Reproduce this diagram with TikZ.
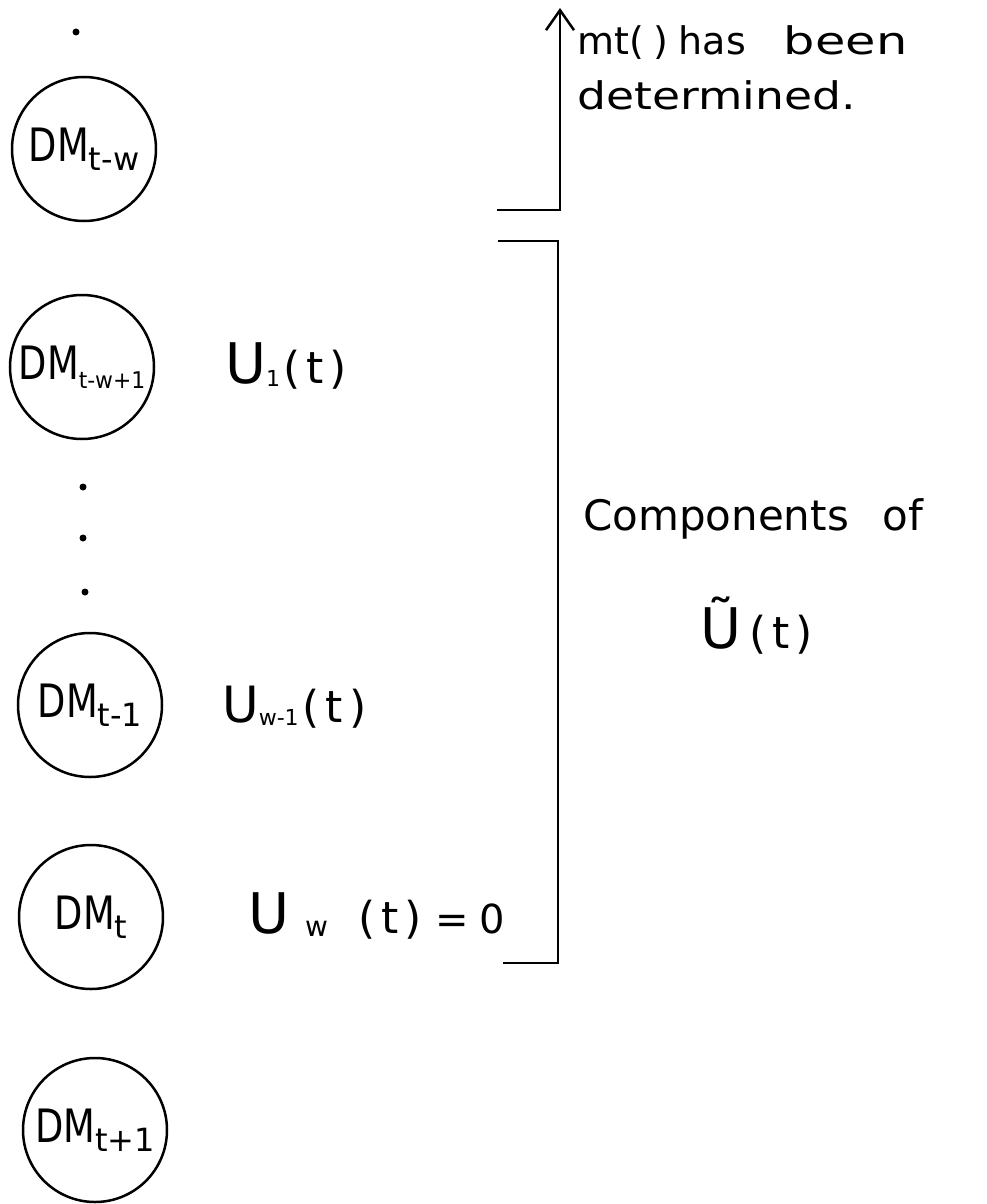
\documentclass[tikz,border=0pt]{standalone}
\usepackage{fontspec}
\setmainfont{DejaVu Sans}
\usepackage{graphicx}
\usetikzlibrary{arrows.meta}
\newcommand{\fs}[1]{\fontsize{#1}{#1}\selectfont}
\newcommand{\dmlab}[3]{\scalebox{0.8}[1]{\fs{46}DM}\raisebox{-9pt}{\scalebox{#3}[1]{\fs{#2}#1}}}
\newcommand{\paren}[1]{{\fs{44}(\hspace{6pt}#1\hspace{6pt})}}
\begin{document}
\begin{tikzpicture}[x=1pt,y=-1pt,
  dmnode/.style={draw,circle,line width=2.5pt,minimum size=144pt,inner sep=0pt},
  lab/.style={anchor=base west,inner sep=0pt},
  dotnode/.style={fill=black,circle,inner sep=0pt,minimum size=7pt},
  brk/.style={line width=2.5pt}]
\useasboundingbox (0,0) rectangle (987,1204);

% decision-maker circles
\node[dmnode] (c1) at (84,149) {\dmlab{t-w}{32}{1}};
\node[dmnode] (c2) at (82,367) {\dmlab{t-w+1}{23}{0.95}};
\node[dmnode] (c3) at (90,705) {\dmlab{t-1}{32}{1}};
\node[dmnode] (c4) at (91,917) {\dmlab{t}{32}{1}};
\node[dmnode] (c5) at (95,1130) {\dmlab{t+1}{32}{1}};

% dots
\node[dotnode] (d0) at (76,32) {};
\node[dotnode] (d1) at (83,487) {};
\node[dotnode] (d2) at (83,538) {};
\node[dotnode] (d3) at (85,592) {};

% U labels
\node[lab] (u1) at (225,383) {{\fs{56}U}\raisebox{-3pt}{\fs{22}1}\hspace{3pt}\paren{t}};
\node[lab] (uw1) at (222,722) {{\fs{50}U}\raisebox{-3pt}{\fs{22}w-1}\hspace{4pt}\paren{t}};
\node[lab] (uw) at (248,933) {{\fs{56}U}\hspace{16pt}\raisebox{-3pt}{\fs{28}w}\hspace{30pt}\paren{t}\hspace{14pt}{\fs{40}=}\hspace{10pt}{\fs{40}0}};

% top bracket with arrow
\coordinate (tl) at (497,210);
\coordinate (tc) at (560,210);
\coordinate (tt) at (560,8);
\draw[brk,-{Straight Barb[length=20pt,width=28pt]}] (tl) -- (tc) -- (tt);
\node[lab] (mt) at (577,55) {\fs{38}mt(\hspace{10pt})\hspace{10pt}has\hspace{38pt}\scalebox{1.3}[1]{been}};
\node[lab] (det) at (577,110) {\scalebox{1.2}[1]{\fs{38}determined.}};

% bottom bracket
\coordinate (b1) at (498,241);
\coordinate (b2) at (558,241);
\coordinate (b3) at (558,963);
\coordinate (b4) at (503,963);
\draw[brk] (b1) -- (b2) -- (b3) -- (b4);
\node[lab] (comp) at (583,530) {\fs{42}Components\hspace{34pt}of};
\node[lab] (ut) at (700,648) {{\fs{56}Ũ}\hspace{8pt}\paren{t}};
\end{tikzpicture}
\end{document}
